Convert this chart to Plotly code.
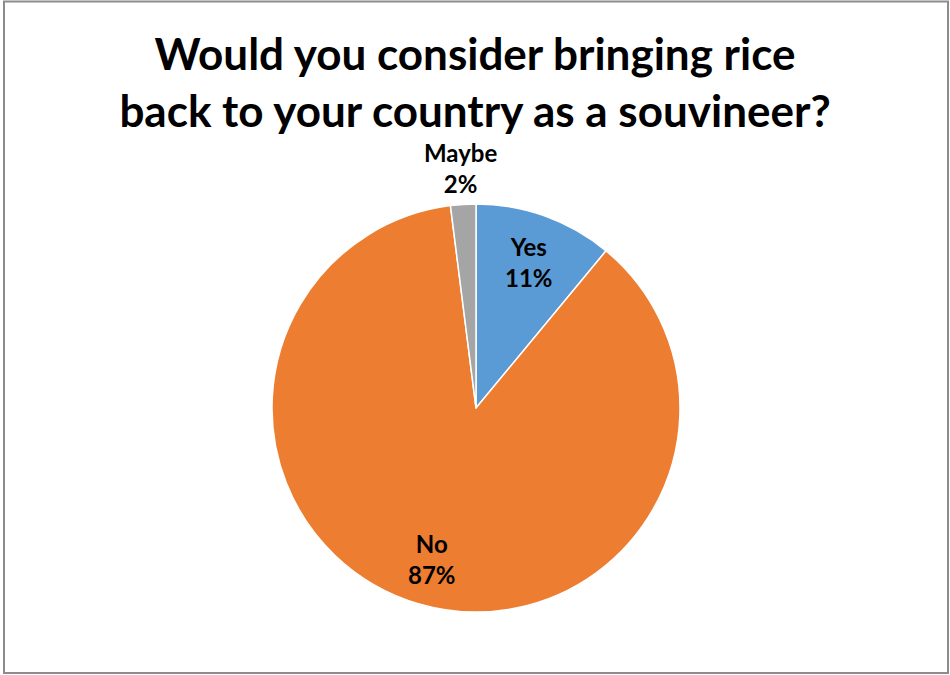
import math
import plotly.graph_objects as go

labels = ["Yes", "No", "Maybe"]
values = [11, 87, 2]
colors = ["#5B9BD5", "#ED7D31", "#A5A5A5"]
title_text = "Would you consider bringing rice<br>back to your country as a souvineer?"

W, H = 950, 675
cx, cy, R = 476, 408, 204  # pixel geometry of the pie

fig = go.Figure(go.Pie(
    labels=labels, values=values, sort=False, direction="clockwise", rotation=0,
    marker=dict(colors=colors, line=dict(color="white", width=1.5)),
    textinfo="none", hoverinfo="label+percent",
    domain=dict(x=[(cx - R) / W, (cx + R) / W], y=[(H - cy - R) / H, (H - cy + R) / H]),
    showlegend=False,
))

total = sum(values)
cum = 0
label_r = [0.76, 0.77, 1.18]
for lab, v, rf in zip(labels, values, label_r):
    mid = (cum + v / 2) / total * 2 * math.pi
    cum += v
    px = cx + rf * R * math.sin(mid)
    py = cy - rf * R * math.cos(mid)
    fig.add_annotation(
        x=px / W, y=1 - py / H, xref="paper", yref="paper",
        xanchor="center", yanchor="middle",
        text=f"<b>{lab}<br>{round(v / total * 100)}%</b>", showarrow=False,
        font=dict(family="Lato", size=24, color="black"), align="center",
    )

fig.add_shape(type="rect", xref="paper", yref="paper", x0=4 / W, x1=948 / W, y0=1 - 673 / H, y1=1 - 1.5 / H,
              line=dict(color="#8C8C8C", width=2))

fig.update_layout(
    width=W, height=H, margin=dict(l=0, r=0, t=0, b=0),
    paper_bgcolor="white", plot_bgcolor="white",
    title=dict(text=f"<b>{title_text}</b>", x=0.5, xanchor="center", y=1 - 70 / H, yanchor="middle",
               font=dict(family="Lato", size=44, color="black")),
)

fig.write_html("out.html")
